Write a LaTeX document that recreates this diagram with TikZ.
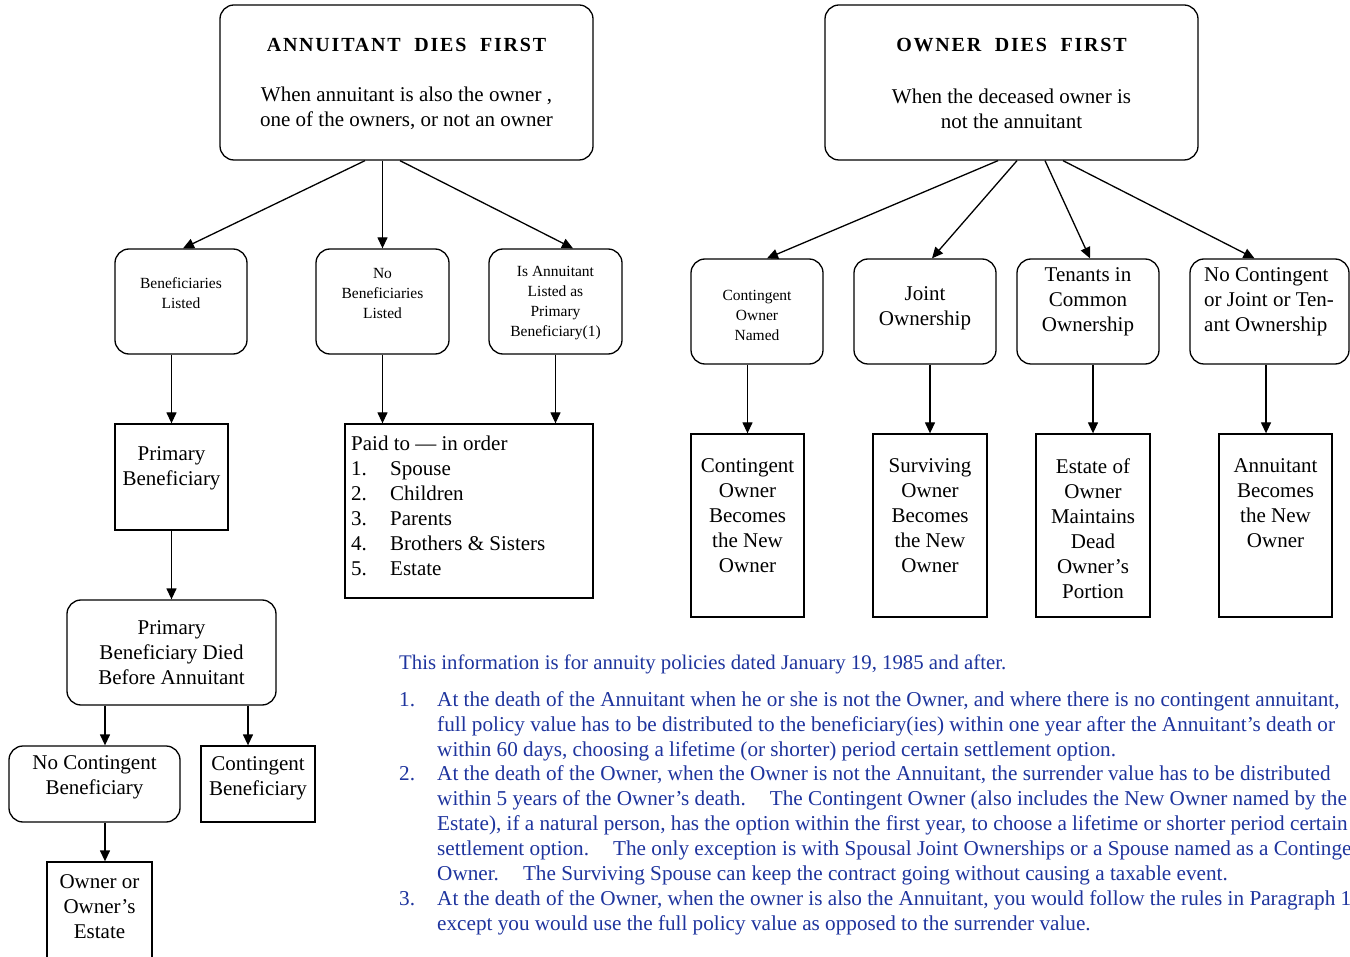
\documentclass[tikz,border=0pt]{standalone}
\usepackage{fontspec}
\setmainfont{Liberation Serif}
\usetikzlibrary{arrows.meta}
\definecolor{infoblue}{RGB}{30,52,158}
\tikzset{
 rbox/.style={draw, line width=1.3pt, rounded corners=14pt, inner sep=0pt},
 sbox/.style={draw, line width=1.3pt, inner sep=0pt},
 arr/.style={line width=1.3pt, -{Triangle[length=11pt,width=10pt]}},
 big/.style={font=\fontsize{21}{25}\selectfont, align=center, inner sep=0pt},
 small/.style={font=\fontsize{15.5}{20}\selectfont, align=center, inner sep=0pt},
 ttl/.style={font=\fontsize{20}{25}\selectfont\bfseries\addfontfeature{LetterSpace=9}, inner sep=0pt},
 info/.style={font=\fontsize{21.2}{25}\selectfont, text=infoblue, anchor=west, inner sep=0pt, text height=14pt, text depth=4.5pt},
}
\begin{document}
\begin{tikzpicture}[x=1pt,y=-1pt]
\useasboundingbox (0,0) rectangle (1350,957);
\clip (0,0) rectangle (1350,957);
\fill[white] (0,0) rectangle (1350,957);

% ---------- left tree ----------
\node[rbox, minimum width=373pt, minimum height=155pt] (ann) at (406.5,82.5) {};
\node[ttl] (annT) at (406.5,45) {ANNUITANT\ \ DIES\ \ FIRST};
\node[big] (annS) at (406.5,108.5) {When annuitant is also the owner ,\\one of the owners, or not an owner};

\node[rbox, minimum width=132pt, minimum height=105pt] (bl) at (181,301.5) {};
\node[small] (blT) at (181,293) {Beneficiaries\\Listed};
\node[rbox, minimum width=133pt, minimum height=105pt] (nb) at (382.5,301.5) {};
\node[small] (nbT) at (382.5,293.5) {No\\Beneficiaries\\Listed};
\node[rbox, minimum width=133pt, minimum height=105pt] (ia) at (555.5,301.5) {};
\node[small] (iaT) at (555.5,303.5) {Is Annuitant\\Listed as\\Primary\\Beneficiary(1)};

\node[sbox, minimum width=113pt, minimum height=106pt] (pb) at (171.5,477) {};
\node[big] (pbT) at (171.5,468.5) {Primary\\Beneficiary};

\node[sbox, minimum width=248pt, minimum height=174pt] (paid) at (469,511) {};
\node[big, align=left, anchor=west] (paidT) at (351,505.5) {Paid to --- in order\\
\makebox[39pt][l]{1.}Spouse\\
\makebox[39pt][l]{2.}Children\\
\makebox[39pt][l]{3.}Parents\\
\makebox[39pt][l]{4.}Brothers \& Sisters\\
\makebox[39pt][l]{5.}Estate};

\node[rbox, minimum width=209pt, minimum height=105pt] (died) at (171.5,652.5) {};
\node[big] (diedT) at (171.5,652.5) {Primary\\Beneficiary Died\\Before Annuitant};

\node[rbox, minimum width=171pt, minimum height=76pt] (ncb) at (94.5,784) {};
\node[big] (ncbT) at (94.5,777.5) {No Contingent\\Beneficiary};
\node[sbox, minimum width=114pt, minimum height=76pt] (cb) at (258,784) {};
\node[big] (cbT) at (258,778.5) {Contingent\\Beneficiary};

\node[sbox, minimum width=105pt, minimum height=108pt] (oe) at (99.5,916) {};
\node[big] (oeT) at (99.5,907) {Owner or\\Owner's\\Estate};

\draw[arr] ([xshift=-41.5pt]ann.south) -- ([xshift=2pt]bl.north);
\draw[arr] (ann.south -| nb.north) -- (nb.north);
\draw[arr] ([xshift=-6.5pt]ann.south) -- ([xshift=17.5pt]ia.north);
\draw[arr] (bl.south -| pb.north) -- (pb.north);
\draw[arr] (nb.south) -- (nb.south |- paid.north);
\draw[arr] (ia.south) -- (ia.south |- paid.north);
\draw[arr] (pb.south) -- (died.north);
\draw[arr] ([xshift=-66.5pt]died.south) -- ([xshift=-66.5pt]died.south |- ncb.north);
\draw[arr] ([xshift=76.5pt]died.south) -- ([xshift=76.5pt]died.south |- cb.north);
\draw[arr] ([xshift=10.5pt]ncb.south) -- ([xshift=10.5pt]ncb.south |- oe.north);

% ---------- right tree ----------
\node[rbox, minimum width=373pt, minimum height=155pt] (own) at (1011.5,82.5) {};
\node[ttl] (ownT) at (1011.5,45) {OWNER\ \ DIES\ \ FIRST};
\node[big] (ownS) at (1011.5,108.5) {When the deceased owner is\\not the annuitant};

\node[rbox, minimum width=132pt, minimum height=105pt] (con) at (757,311.5) {};
\node[small] (conT) at (757,315.5) {Contingent\\Owner\\Named};
\node[rbox, minimum width=142pt, minimum height=105pt] (jo) at (925,311.5) {};
\node[big] (joT) at (925,308.5) {Joint\\Ownership};
\node[rbox, minimum width=142pt, minimum height=105pt] (tc) at (1088,311.5) {};
\node[big] (tcT) at (1088,301.5) {Tenants in\\Common\\Ownership};
\node[rbox, minimum width=159pt, minimum height=105pt] (nco) at (1269.5,311.5) {};
\node[big, align=left, anchor=west] (ncoT) at (1204,301.5) {No Contingent\\or Joint or Ten-\\ant Ownership};

\node[sbox, minimum width=113pt, minimum height=183pt] (cob) at (747.5,525.5) {};
\node[big] (cobT) at (747.5,516) {Contingent\\Owner\\Becomes\\the New\\Owner};
\node[sbox, minimum width=114pt, minimum height=183pt] (sob) at (930,525.5) {};
\node[big] (sobT) at (930,516) {Surviving\\Owner\\Becomes\\the New\\Owner};
\node[sbox, minimum width=114pt, minimum height=183pt] (eob) at (1093,525.5) {};
\node[big] (eobT) at (1093,528.5) {Estate of\\Owner\\Maintains\\Dead\\Owner's\\Portion};
\node[sbox, minimum width=113pt, minimum height=183pt] (aob) at (1275.5,525.5) {};
\node[big] (aobT) at (1275.5,503.5) {Annuitant\\Becomes\\the New\\Owner};

\draw[arr] ([xshift=-13.5pt]own.south) -- ([xshift=10pt]con.north);
\draw[arr] ([xshift=5.5pt]own.south) -- ([xshift=7pt]jo.north);
\draw[arr] ([xshift=33.5pt]own.south) -- ([xshift=2pt]tc.north);
\draw[arr] ([xshift=51.5pt]own.south) -- ([xshift=-15pt]nco.north);
\draw[arr] (con.south -| cob.north) -- (cob.north);
\draw[arr] (jo.south -| sob.north) -- (sob.north);
\draw[arr] (tc.south -| eob.north) -- (eob.north);
\draw[arr] ([xshift=-3.5pt]nco.south) -- ([xshift=-3.5pt]nco.south |- aob.north);

% ---------- info text ----------
\node[info, font=\fontsize{20.8}{25}\selectfont] (i0) at (399,665) {This information is for annuity policies dated January 19, 1985 and after.};
\node[info] (n1) at (399,702) {1.};
\node[info] (n2) at (399,776) {2.};
\node[info] (n3) at (399,901) {3.};
\node[info] (l1) at (437,702) {At the death of the Annuitant when he or she is not the Owner, and where there is no contingent annuitant,};
\node[info] (l2) at (437,727) {full policy value has to be distributed to the beneficiary(ies) within one year after the Annuitant's death or};
\node[info] (l3) at (437,752) {within 60 days, choosing a lifetime (or shorter) period certain settlement option.};
\node[info] (l4) at (437,776) {At the death of the Owner, when the Owner is not the Annuitant, the surrender value has to be distributed};
\node[info] (l5) at (437,801) {within 5 years of the Owner's death.\hspace{0.8em} The Contingent Owner (also includes the New Owner named by the};
\node[info] (l6) at (437,826) {Estate), if a natural person, has the option within the first year, to choose a lifetime or shorter period certain};
\node[info] (l7) at (437,851) {settlement option.\hspace{0.8em} The only exception is with Spousal Joint Ownerships or a Spouse named as a Contingent};
\node[info] (l8) at (437,876) {Owner.\hspace{0.8em} The Surviving Spouse can keep the contract going without causing a taxable event.};
\node[info] (l9) at (437,901) {At the death of the Owner, when the owner is also the Annuitant, you would follow the rules in Paragraph 1};
\node[info] (l10) at (437,926) {except you would use the full policy value as opposed to the surrender value.};
\end{tikzpicture}
\end{document}
